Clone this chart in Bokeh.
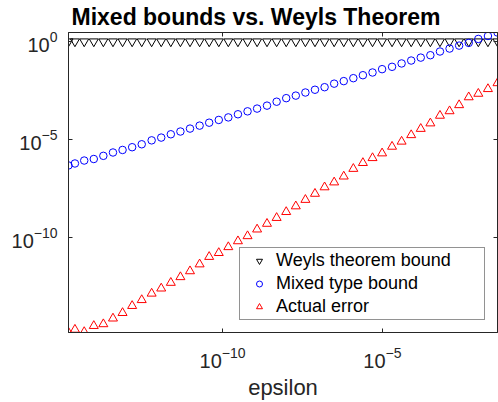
from bokeh.plotting import figure
from bokeh.models import Range1d, LogAxis, FixedTicker, Legend, LegendItem
from bokeh.embed import file_html
from bokeh.resources import INLINE

# ---- data ----
eps = [1.51e-15, 2.40e-15, 4.68e-15, 9.33e-15, 1.86e-14, 3.72e-14, 7.41e-14, 1.48e-13,
       2.95e-13, 6.03e-13, 1.20e-12, 2.40e-12, 4.79e-12, 9.55e-12, 1.91e-11, 3.80e-11,
       7.59e-11, 1.51e-10, 3.02e-10, 6.03e-10, 1.20e-9, 2.45e-9, 4.90e-9, 9.77e-9,
       1.95e-8, 3.89e-8, 7.76e-8, 1.55e-7, 3.09e-7, 6.17e-7, 1.23e-6, 2.45e-6,
       4.90e-6, 9.77e-6, 2.00e-5, 3.98e-5, 7.94e-5, 1.58e-4, 3.16e-4, 6.31e-4,
       1.26e-3, 2.51e-3, 5.01e-3, 1.00e-2, 2.00e-2, 3.98e-2]

weyl_bound = [1.0, 1.0, 1.0, 1.0, 1.0, 1.0, 1.0, 1.0, 1.0, 1.0, 1.0, 1.0,
              1.0, 1.0, 1.0, 1.0, 1.0, 1.0, 1.0, 1.0, 1.0, 1.0, 1.0, 1.0,
              1.0, 1.0, 1.0, 1.0, 1.0, 1.0, 1.0, 1.0, 1.0, 1.0, 1.0, 1.0,
              1.0, 1.0, 1.0, 1.0, 1.0, 1.0, 1.0, 1.0, 1.0, 1.0]

mixed_bound = [4.79e-7, 6.03e-7, 8.51e-7, 1.02e-6, 1.48e-6, 2.19e-6, 2.95e-6, 4.07e-6,
               5.75e-6, 9.12e-6, 1.26e-5, 1.86e-5, 2.57e-5, 3.63e-5, 5.13e-5, 7.24e-5,
               1.00e-4, 1.35e-4, 1.95e-4, 2.75e-4, 3.80e-4, 5.37e-4, 8.51e-4, 1.29e-3,
               1.74e-3, 2.51e-3, 3.47e-3, 4.68e-3, 7.08e-3, 9.55e-3, 1.35e-2, 1.91e-2,
               2.63e-2, 3.89e-2, 5.13e-2, 7.59e-2, 0.107, 0.151, 0.200, 0.309,
               0.437, 0.617, 0.851, 1.35, 1.91, 2.88]

actual_error = [1.45e-15, 2.04e-15, 1.55e-15, 3.16e-15, 3.89e-15, 7.59e-15, 1.45e-14, 3.31e-14,
                6.61e-14, 1.41e-13, 2.57e-13, 5.01e-13, 9.77e-13, 1.95e-12, 4.37e-12, 1.05e-11,
                1.66e-11, 3.31e-11, 6.61e-11, 1.20e-10, 2.63e-10, 5.13e-10, 1.02e-9, 2.04e-9,
                3.98e-9, 8.51e-9, 1.74e-8, 3.72e-8, 6.61e-8, 1.32e-7, 3.24e-7, 6.46e-7,
                1.15e-6, 2.00e-6, 4.37e-6, 7.94e-6, 1.70e-5, 3.55e-5, 6.76e-5, 1.66e-4,
                2.82e-4, 5.75e-4, 1.45e-3, 2.19e-3, 3.80e-3, 7.59e-3]

series_labels = ["Weyls theorem bound", "Mixed type bound", "Actual error"]
x_tick_values = [1e-10, 1e-5]
y_tick_values = [1e-10, 1e-5, 1e0]

FONT = "Liberation Sans"
AX = "#262626"

p = figure(width=498, height=402, x_axis_type="log", y_axis_type="log",
           x_range=Range1d(min(eps), max(eps)),
           y_range=Range1d(min(actual_error), max(mixed_bound)),
           output_backend="svg", toolbar_location=None,
           min_border_left=68, min_border_right=1, min_border_top=32, min_border_bottom=68)

p.background_fill_color = "white"
p.border_fill_color = "white"
p.xgrid.visible = False
p.ygrid.visible = False
p.outline_line_color = AX

p.title.text = "Mixed bounds vs. Weyls Theorem"
p.title.text_font = FONT
p.title.text_font_size = "23px"
p.title.text_font_style = "bold"
p.title.text_color = "black"
p.title.align = "left"
p.title.vertical_align = "top"
p.title.offset = 3
p.title.standoff = 2

def style_axis(ax, ticks, show_labels=True):
    ax.ticker = FixedTicker(ticks=ticks)
    ax.minor_tick_line_color = None
    ax.major_tick_in = 4
    ax.major_tick_out = 0
    ax.axis_line_color = AX
    ax.major_tick_line_color = AX
    if show_labels:
        ax.major_label_text_font = FONT
        ax.major_label_text_font_size = "20px"
        ax.major_label_text_color = AX
    else:
        ax.major_label_overrides = {t: "" for t in ticks}
        ax.major_label_text_font_size = "0px"
        ax.major_label_standoff = 0

style_axis(p.xaxis[0], x_tick_values)
p.xaxis[0].major_label_standoff = 14
p.xaxis[0].axis_label = "epsilon"
p.xaxis[0].axis_label_text_font = FONT
p.xaxis[0].axis_label_text_font_size = "22px"
p.xaxis[0].axis_label_text_font_style = "normal"
p.xaxis[0].axis_label_text_color = AX
p.xaxis[0].axis_label_standoff = 4

style_axis(p.yaxis[0], y_tick_values)
p.yaxis[0].major_label_standoff = 11

top_ax = LogAxis()
style_axis(top_ax, x_tick_values, show_labels=False)
p.add_layout(top_ax, "above")
right_ax = LogAxis()
style_axis(right_ax, y_tick_values, show_labels=False)
p.add_layout(right_ax, "right")

r_weyl = p.scatter(eps, weyl_bound, marker="inverted_triangle", size=9,
                   fill_color=None, line_color="black", line_width=1)
r_mixed = p.scatter(eps, mixed_bound, marker="circle", size=7.5,
                    fill_color=None, line_color="blue", line_width=1)
r_actual = p.scatter(eps, actual_error, marker="triangle", size=9,
                     fill_color=None, line_color="red", line_width=1)

legend = Legend(items=[LegendItem(label=series_labels[0], renderers=[r_weyl]),
                       LegendItem(label=series_labels[1], renderers=[r_mixed]),
                       LegendItem(label=series_labels[2], renderers=[r_actual])],
                location="bottom_right", padding=2, spacing=2, margin=12,
                glyph_width=34, glyph_height=15, label_standoff=0, label_width=206,
                label_text_font=FONT, label_text_font_size="18px", label_text_color="black",
                border_line_color=AX, border_line_width=1,
                background_fill_color="white", background_fill_alpha=1.0)
p.add_layout(legend)

open("out.html", "w").write(file_html(p, INLINE))
